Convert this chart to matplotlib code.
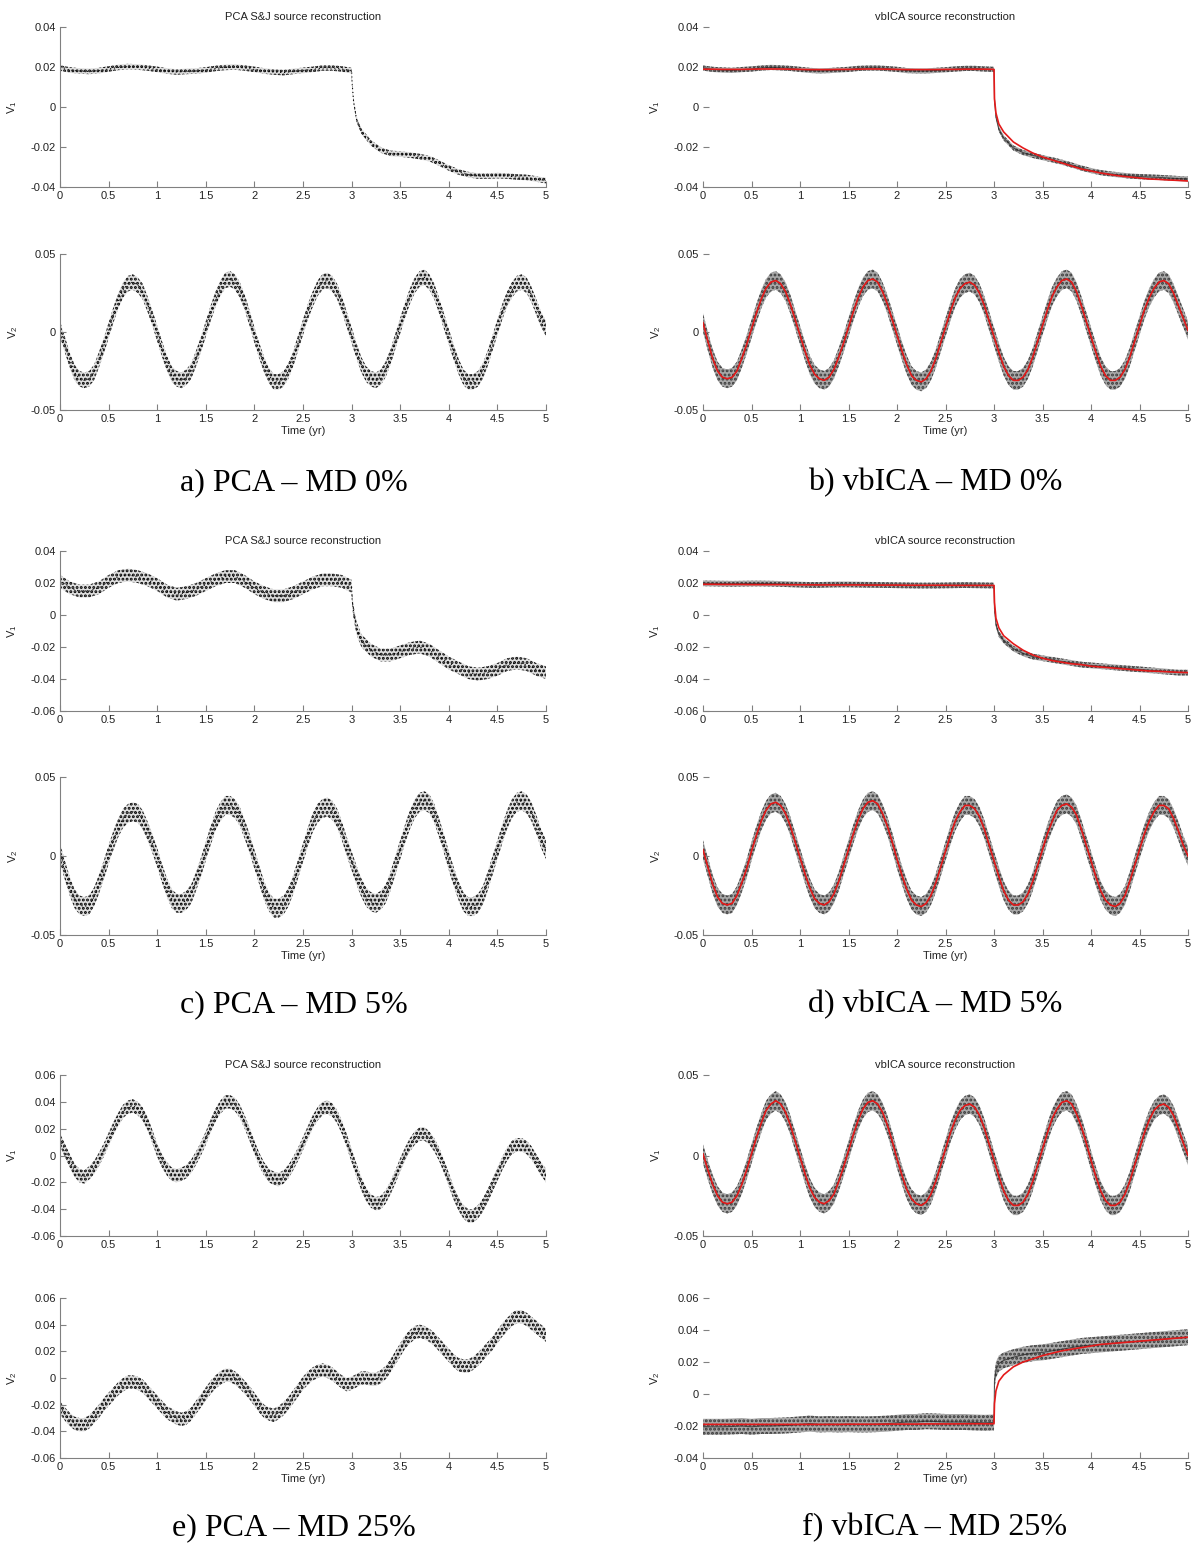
import numpy as np
import matplotlib
matplotlib.use('Agg')
import matplotlib.pyplot as plt
from matplotlib.ticker import FuncFormatter

# sample times: sine panels every 0.05 yr, step panels every 0.1 yr plus the jump at 3 yr
t_sin = np.round(np.arange(0, 5.0001, 0.05), 3)
t_step = np.round(np.concatenate([np.arange(0, 3.0001, 0.1), [3.005, 3.02, 3.05],
                                  np.arange(3.1, 5.0001, 0.1)]), 3)

# ---- a) PCA MD 0% ----
a_v1 = [0.0195, 0.0185, 0.018, 0.0178, 0.0182, 0.019, 0.0198, 0.0202, 0.02, 0.0195,
        0.0188, 0.018, 0.0175, 0.0178, 0.018, 0.0185, 0.0193, 0.0198, 0.02, 0.0195,
        0.0188, 0.018, 0.0175, 0.0172, 0.0178, 0.0183, 0.0188, 0.0195, 0.0195, 0.019, 0.0182,
        0.012, 0.003, -0.006,
        -0.012, -0.018, -0.0215, -0.0232, -0.0235, -0.024, -0.0248, -0.0258, -0.028, -0.0305,
        -0.0325, -0.0338, -0.0345, -0.0345, -0.0343, -0.0345, -0.035, -0.0352, -0.036, -0.0368]
a_v2 = [0.002, -0.008, -0.018, -0.026, -0.030, -0.031, -0.030, -0.026, -0.018, -0.009,
        0.001, 0.011, 0.020, 0.027, 0.031, 0.032, 0.030, 0.026, 0.018, 0.009,
        -0.001, -0.011, -0.020, -0.027, -0.030, -0.031, -0.029, -0.025, -0.017, -0.008,
        0.002, 0.012, 0.021, 0.028, 0.033, 0.034, 0.032, 0.027, 0.019, 0.009,
        -0.002, -0.012, -0.021, -0.028, -0.032, -0.032, -0.030, -0.025, -0.017, -0.007,
        0.003, 0.013, 0.021, 0.028, 0.032, 0.033, 0.031, 0.026, 0.018, 0.008,
        -0.002, -0.012, -0.021, -0.027, -0.030, -0.031, -0.029, -0.024, -0.016, -0.006,
        0.004, 0.014, 0.023, 0.030, 0.034, 0.035, 0.032, 0.026, 0.017, 0.007,
        -0.003, -0.013, -0.022, -0.029, -0.032, -0.032, -0.030, -0.025, -0.017, -0.007,
        0.003, 0.013, 0.021, 0.027, 0.031, 0.032, 0.030, 0.024, 0.016, 0.008, 0.002]

# ---- b) vbICA MD 0% ----
b_v1 = [0.0195, 0.0188, 0.0185, 0.0183, 0.0187, 0.019, 0.0195, 0.0198, 0.0196, 0.0193,
        0.0188, 0.0183, 0.018, 0.0182, 0.0185, 0.0188, 0.0193, 0.0195, 0.0195, 0.0192,
        0.0188, 0.0182, 0.018, 0.018, 0.0183, 0.0186, 0.019, 0.0193, 0.0193, 0.019, 0.0188,
        0.004, -0.005, -0.011,
        -0.0155, -0.0205, -0.0228, -0.0242, -0.0253, -0.0264, -0.0276, -0.029, -0.0305, -0.0318,
        -0.0328, -0.0335, -0.034, -0.0345, -0.0348, -0.035, -0.0352, -0.0355, -0.0358, -0.036]
b_v1_model = [0.0189, 0.0189, 0.0188, 0.0188, 0.0188, 0.0189, 0.019, 0.019, 0.019, 0.0189,
              0.0188, 0.0187, 0.0187, 0.0187, 0.0188, 0.0188, 0.0189, 0.019, 0.019, 0.0189,
              0.0188, 0.0187, 0.0187, 0.0187, 0.0187, 0.0188, 0.0188, 0.0189, 0.0189, 0.0189, 0.0188,
              0.004, -0.003, -0.0085,
              -0.0125, -0.0175, -0.0205, -0.023, -0.025, -0.0265, -0.028, -0.0295, -0.031, -0.032,
              -0.033, -0.0338, -0.0345, -0.035, -0.0355, -0.036, -0.0362, -0.0365, -0.0367, -0.037]
b_v2 = [0.006, -0.006, -0.017, -0.025, -0.029, -0.030, -0.029, -0.025, -0.017, -0.008,
        0.002, 0.012, 0.021, 0.028, 0.032, 0.033, 0.031, 0.026, 0.018, 0.008,
        -0.002, -0.012, -0.021, -0.027, -0.030, -0.031, -0.029, -0.024, -0.016, -0.007,
        0.003, 0.013, 0.022, 0.029, 0.033, 0.034, 0.032, 0.026, 0.018, 0.008,
        -0.002, -0.012, -0.021, -0.028, -0.031, -0.032, -0.030, -0.025, -0.017, -0.007,
        0.003, 0.013, 0.022, 0.028, 0.031, 0.032, 0.030, 0.025, 0.017, 0.007,
        -0.003, -0.013, -0.022, -0.028, -0.031, -0.031, -0.029, -0.024, -0.016, -0.006,
        0.004, 0.014, 0.023, 0.029, 0.033, 0.034, 0.032, 0.026, 0.017, 0.007,
        -0.003, -0.013, -0.022, -0.028, -0.031, -0.031, -0.029, -0.024, -0.016, -0.006,
        0.004, 0.014, 0.022, 0.028, 0.032, 0.033, 0.031, 0.025, 0.017, 0.009, 0.001]

# ---- c) PCA MD 5% ----
c_v1 = [0.021, 0.017, 0.015, 0.015, 0.017, 0.021, 0.024, 0.025, 0.024, 0.022,
        0.019, 0.015, 0.013, 0.014, 0.016, 0.019, 0.022, 0.024, 0.024, 0.021,
        0.017, 0.014, 0.012, 0.012, 0.014, 0.017, 0.020, 0.022, 0.022, 0.021, 0.018,
        0.010, 0.002, -0.008,
        -0.016, -0.022, -0.025, -0.025, -0.023, -0.021, -0.020, -0.022, -0.026, -0.030,
        -0.033, -0.036, -0.037, -0.036, -0.034, -0.031, -0.030, -0.031, -0.034, -0.036]
c_v2 = [0.002, -0.009, -0.019, -0.027, -0.031, -0.032, -0.031, -0.026, -0.018, -0.009,
        0.001, 0.010, 0.018, 0.024, 0.027, 0.028, 0.027, 0.023, 0.016, 0.008,
        -0.001, -0.011, -0.020, -0.027, -0.030, -0.030, -0.028, -0.024, -0.016, -0.007,
        0.003, 0.013, 0.022, 0.028, 0.032, 0.032, 0.030, 0.025, 0.017, 0.008,
        -0.002, -0.012, -0.022, -0.029, -0.033, -0.033, -0.031, -0.026, -0.018, -0.008,
        0.002, 0.012, 0.021, 0.027, 0.030, 0.031, 0.029, 0.024, 0.016, 0.006,
        -0.003, -0.012, -0.020, -0.026, -0.029, -0.030, -0.028, -0.024, -0.016, -0.006,
        0.004, 0.014, 0.023, 0.030, 0.034, 0.035, 0.033, 0.027, 0.018, 0.008,
        -0.003, -0.013, -0.022, -0.029, -0.032, -0.032, -0.030, -0.025, -0.016, -0.006,
        0.004, 0.014, 0.023, 0.030, 0.034, 0.035, 0.033, 0.028, 0.020, 0.011, 0.004]

# ---- d) vbICA MD 5% ----
d_v1 = [0.0198, 0.0197, 0.0196, 0.0195, 0.0196, 0.0197, 0.0197, 0.0196, 0.0194, 0.0192,
        0.019, 0.0188, 0.0188, 0.019, 0.0191, 0.0191, 0.019, 0.0189, 0.0188, 0.0187,
        0.0186, 0.0185, 0.0184, 0.0184, 0.0184, 0.0185, 0.0186, 0.0187, 0.0186, 0.0185, 0.0184,
        0.004, -0.006, -0.012,
        -0.016, -0.021, -0.024, -0.026, -0.027, -0.028, -0.029, -0.030, -0.031, -0.0315,
        -0.032, -0.0325, -0.033, -0.0335, -0.034, -0.0345, -0.035, -0.0355, -0.036, -0.036]
d_v1_model = [0.0192, 0.0192, 0.0191, 0.0191, 0.0191, 0.019, 0.019, 0.019, 0.019, 0.0189,
              0.0189, 0.0189, 0.0188, 0.0188, 0.0188, 0.0188, 0.0188, 0.0187, 0.0187, 0.0187,
              0.0187, 0.0186, 0.0186, 0.0186, 0.0186, 0.0186, 0.0185, 0.0185, 0.0185, 0.0185, 0.0185,
              0.008, -0.002, -0.008,
              -0.013, -0.018, -0.022, -0.025, -0.027, -0.0285, -0.0295, -0.0305, -0.031, -0.032,
              -0.0325, -0.033, -0.0335, -0.034, -0.0345, -0.035, -0.0352, -0.0355, -0.0358, -0.036]
d_v2 = [0.004, -0.007, -0.018, -0.026, -0.030, -0.031, -0.030, -0.025, -0.017, -0.008,
        0.003, 0.013, 0.022, 0.029, 0.033, 0.034, 0.032, 0.027, 0.019, 0.009,
        -0.001, -0.011, -0.020, -0.027, -0.030, -0.031, -0.029, -0.024, -0.016, -0.006,
        0.004, 0.014, 0.023, 0.030, 0.034, 0.035, 0.033, 0.027, 0.019, 0.009,
        -0.002, -0.012, -0.021, -0.028, -0.031, -0.032, -0.030, -0.025, -0.017, -0.007,
        0.003, 0.013, 0.022, 0.028, 0.032, 0.032, 0.030, 0.025, 0.017, 0.007,
        -0.003, -0.013, -0.022, -0.028, -0.031, -0.031, -0.029, -0.024, -0.016, -0.006,
        0.004, 0.014, 0.022, 0.029, 0.032, 0.033, 0.031, 0.026, 0.017, 0.007,
        -0.003, -0.013, -0.022, -0.028, -0.031, -0.032, -0.030, -0.025, -0.016, -0.006,
        0.004, 0.014, 0.022, 0.028, 0.032, 0.032, 0.030, 0.024, 0.016, 0.007, 0.000]

# ---- e) PCA MD 25% ----
e_v1 = [0.012, 0.004, -0.004, -0.011, -0.015, -0.016, -0.013, -0.009, -0.003, 0.004,
        0.012, 0.020, 0.027, 0.033, 0.036, 0.037, 0.035, 0.031, 0.024, 0.014,
        0.004, -0.004, -0.010, -0.014, -0.015, -0.014, -0.012, -0.008, -0.002, 0.005,
        0.013, 0.022, 0.030, 0.036, 0.040, 0.040, 0.038, 0.033, 0.025, 0.016,
        0.006, -0.003, -0.010, -0.015, -0.017, -0.018, -0.016, -0.012, -0.006, 0.001,
        0.009, 0.017, 0.025, 0.031, 0.035, 0.036, 0.034, 0.029, 0.021, 0.011,
        0.000, -0.011, -0.021, -0.029, -0.034, -0.036, -0.035, -0.031, -0.024, -0.016,
        -0.007, 0.001, 0.008, 0.013, 0.016, 0.016, 0.013, 0.008, 0.001, -0.008,
        -0.018, -0.028, -0.036, -0.042, -0.045, -0.045, -0.042, -0.037, -0.030, -0.022,
        -0.014, -0.006, 0.001, 0.006, 0.008, 0.008, 0.006, 0.002, -0.004, -0.010, -0.015]
e_v2 = [-0.022, -0.027, -0.031, -0.034, -0.035, -0.035, -0.033, -0.029, -0.025, -0.020,
        -0.016, -0.012, -0.008, -0.005, -0.003, -0.003, -0.004, -0.006, -0.010, -0.014,
        -0.018, -0.022, -0.026, -0.028, -0.030, -0.031, -0.030, -0.027, -0.022, -0.017,
        -0.012, -0.007, -0.003, 0.000, 0.002, 0.002, 0.000, -0.003, -0.007, -0.011,
        -0.016, -0.021, -0.025, -0.027, -0.028, -0.026, -0.023, -0.019, -0.014, -0.009,
        -0.004, 0.000, 0.003, 0.005, 0.006, 0.005, 0.003, 0.000, -0.003, -0.005,
        -0.004, -0.002, 0.000, 0.000, -0.001, -0.001, 0.001, 0.004, 0.009, 0.015,
        0.021, 0.027, 0.031, 0.034, 0.035, 0.034, 0.032, 0.029, 0.025, 0.021,
        0.017, 0.013, 0.010, 0.009, 0.009, 0.011, 0.014, 0.018, 0.022, 0.026,
        0.031, 0.036, 0.040, 0.044, 0.046, 0.046, 0.044, 0.041, 0.038, 0.035, 0.032]

# ---- f) vbICA MD 25% ----
f_v1 = [0.001, -0.009, -0.018, -0.025, -0.029, -0.030, -0.029, -0.025, -0.018, -0.009,
        0.001, 0.011, 0.020, 0.028, 0.032, 0.034, 0.032, 0.027, 0.019, 0.009,
        -0.001, -0.011, -0.020, -0.026, -0.029, -0.030, -0.028, -0.024, -0.016, -0.007,
        0.003, 0.013, 0.022, 0.029, 0.033, 0.034, 0.032, 0.027, 0.019, 0.009,
        -0.002, -0.012, -0.021, -0.027, -0.030, -0.031, -0.029, -0.024, -0.016, -0.006,
        0.004, 0.014, 0.022, 0.028, 0.031, 0.032, 0.030, 0.025, 0.017, 0.007,
        -0.003, -0.013, -0.022, -0.028, -0.031, -0.031, -0.029, -0.024, -0.016, -0.006,
        0.004, 0.014, 0.023, 0.029, 0.033, 0.034, 0.032, 0.026, 0.018, 0.008,
        -0.003, -0.013, -0.022, -0.028, -0.031, -0.031, -0.029, -0.024, -0.016, -0.006,
        0.004, 0.014, 0.022, 0.028, 0.031, 0.032, 0.030, 0.025, 0.017, 0.008, 0.000]
f_v2 = [-0.0205, -0.0205, -0.0205, -0.0203, -0.020, -0.0205, -0.020, -0.020, -0.0198, -0.0195,
        -0.019, -0.0185, -0.019, -0.0188, -0.019, -0.0188, -0.019, -0.019, -0.0188, -0.0185,
        -0.018, -0.0175, -0.0175, -0.017, -0.0172, -0.0175, -0.0175, -0.0175, -0.0178, -0.018, -0.0178,
        0.008, 0.015, 0.019,
        0.021, 0.023, 0.0245, 0.0255, 0.026, 0.027, 0.028, 0.029, 0.030, 0.0305,
        0.031, 0.0315, 0.032, 0.0325, 0.033, 0.0335, 0.034, 0.0345, 0.035, 0.0355]
f_v2_model = [-0.019, -0.019, -0.019, -0.019, -0.019, -0.019, -0.019, -0.019, -0.019, -0.019,
              -0.019, -0.019, -0.019, -0.019, -0.019, -0.0189, -0.0189, -0.0189, -0.0189, -0.0188,
              -0.0188, -0.0188, -0.0188, -0.0187, -0.0187, -0.0187, -0.0187, -0.0186, -0.0186, -0.0186, -0.0186,
              -0.006, 0.002, 0.008,
              0.012, 0.017, 0.020, 0.022, 0.024, 0.0255, 0.027, 0.028, 0.029, 0.030,
              0.031, 0.0315, 0.032, 0.0325, 0.033, 0.0335, 0.034, 0.0345, 0.035, 0.0355]

# scatter half-widths of each series
spread = {'a1': 0.0014, 'a2': 0.005, 'b1': 0.0013, 'b2': 0.006,
          'c1': 0.004, 'c2': 0.006, 'd1': 0.0018, 'd2': 0.006,
          'e1': 0.005, 'e2': 0.005, 'f1': 0.006, 'f2': 0.005}

captions = ['a) PCA \u2013 MD 0%', 'b) vbICA \u2013 MD 0%',
            'c) PCA \u2013 MD 5%', 'd) vbICA \u2013 MD 5%',
            'e) PCA \u2013 MD 25%', 'f) vbICA \u2013 MD 25%']

plt.rcParams['font.family'] = ['Liberation Sans', 'DejaVu Sans']
plt.rcParams['mathtext.default'] = 'regular'
plt.rcParams['hatch.linewidth'] = 1.4

W, H = 1196, 1546
fig = plt.figure(figsize=(W / 100, H / 100), dpi=100)

fmt = FuncFormatter(lambda v, p: '%g' % round(v, 4))
GREY = '#808080'


def make_ax(x0, x1, y0, y1, ylim, ystep, vlabel, title=None, xlabel=False, left_spine=True):
    ax = fig.add_axes([x0 / W, 1 - y1 / H, (x1 - x0) / W, (y1 - y0) / H])
    ax.set_xlim(0, 5)
    ax.set_ylim(*ylim)
    ax.set_xticks(np.arange(0, 5.01, 0.5))
    ax.set_yticks(np.arange(ylim[0], ylim[1] + 1e-9, ystep))
    ax.xaxis.set_major_formatter(fmt)
    ax.yaxis.set_major_formatter(fmt)
    for s in ['top', 'right']:
        ax.spines[s].set_visible(False)
    ax.spines['bottom'].set_color(GREY)
    ax.spines['left'].set_color(GREY)
    ax.spines['left'].set_visible(left_spine)
    ax.tick_params(direction='in', length=4, width=0.8, color=GREY, labelsize=8,
                   labelcolor='#222222', pad=3)
    ax.set_ylabel(vlabel, fontsize=8, color='#222222', labelpad=8)
    if title:
        ax.set_title(title, fontsize=8, color='#222222', pad=5)
    if xlabel:
        ax.set_xlabel('Time (yr)', fontsize=8, color='#222222', labelpad=1)
    return ax


def draw_pca(ax, t, v, w):
    # dotted band standing in for the cloud of black sample dots
    v = np.asarray(v)
    ax.fill_between(t, v - w, v + w, facecolor='#dedede', edgecolor='black',
                    hatch='....', lw=0)
    ax.plot(t, v, color='black', lw=0.8, ls=(0, (1, 2.5)))


def draw_vb(ax, t, v, model, w):
    v = np.asarray(v)
    ax.fill_between(t, v - w, v + w, facecolor='#a8a8a8', edgecolor='#3a3a3a',
                    hatch='....', lw=0)
    ax.plot(t, v, color='#222222', lw=0.8, alpha=0.7)
    ax.plot(t, model, color='#e41a1a', lw=1.2)


left = (60, 546)
right = (703, 1188)
rows = [((27, 187), (254, 410)), ((551, 711), (777, 935)), ((1075, 1236), (1298, 1458))]
cap_y = [483, 1005, 1528]

pca_sets = [(t_step, a_v1, (-0.04, 0.04), 0.02, 'a1', t_sin, a_v2, (-0.05, 0.05), 0.05, 'a2'),
            (t_step, c_v1, (-0.06, 0.04), 0.02, 'c1', t_sin, c_v2, (-0.05, 0.05), 0.05, 'c2'),
            (t_sin, e_v1, (-0.06, 0.06), 0.02, 'e1', t_sin, e_v2, (-0.06, 0.06), 0.02, 'e2')]
vb_sets = [(t_step, b_v1, b_v1_model, (-0.04, 0.04), 0.02, 'b1', t_sin, b_v2, b_v2, (-0.05, 0.05), 0.05, 'b2'),
           (t_step, d_v1, d_v1_model, (-0.06, 0.04), 0.02, 'd1', t_sin, d_v2, d_v2, (-0.05, 0.05), 0.05, 'd2'),
           (t_sin, f_v1, f_v1, (-0.05, 0.05), 0.05, 'f1', t_step, f_v2, f_v2_model, (-0.04, 0.06), 0.02, 'f2')]

for i, (top, bot) in enumerate(rows):
    p = pca_sets[i]
    ax = make_ax(left[0], left[1], top[0], top[1], p[2], p[3], 'V$_1$',
                 title='PCA S&J source reconstruction')
    draw_pca(ax, p[0], p[1], spread[p[4]])
    ax = make_ax(left[0], left[1], bot[0], bot[1], p[7], p[8], 'V$_2$', xlabel=True)
    draw_pca(ax, p[5], p[6], spread[p[9]])

    q = vb_sets[i]
    ax = make_ax(right[0], right[1], top[0], top[1], q[3], q[4], 'V$_1$',
                 title='vbICA source reconstruction', left_spine=False)
    draw_vb(ax, q[0], q[1], q[2], spread[q[5]])
    ax = make_ax(right[0], right[1], bot[0], bot[1], q[9], q[10], 'V$_2$',
                 xlabel=True, left_spine=False)
    draw_vb(ax, q[6], q[7], q[8], spread[q[11]])

    fig.text(294 / W, 1 - cap_y[i] / H, captions[2 * i], ha='center', va='center',
             fontsize=23, family='Liberation Serif')
    fig.text(935 / W, 1 - cap_y[i] / H, captions[2 * i + 1], ha='center', va='center',
             fontsize=23, family='Liberation Serif')

fig.savefig('out.png', dpi=100, facecolor='white')
